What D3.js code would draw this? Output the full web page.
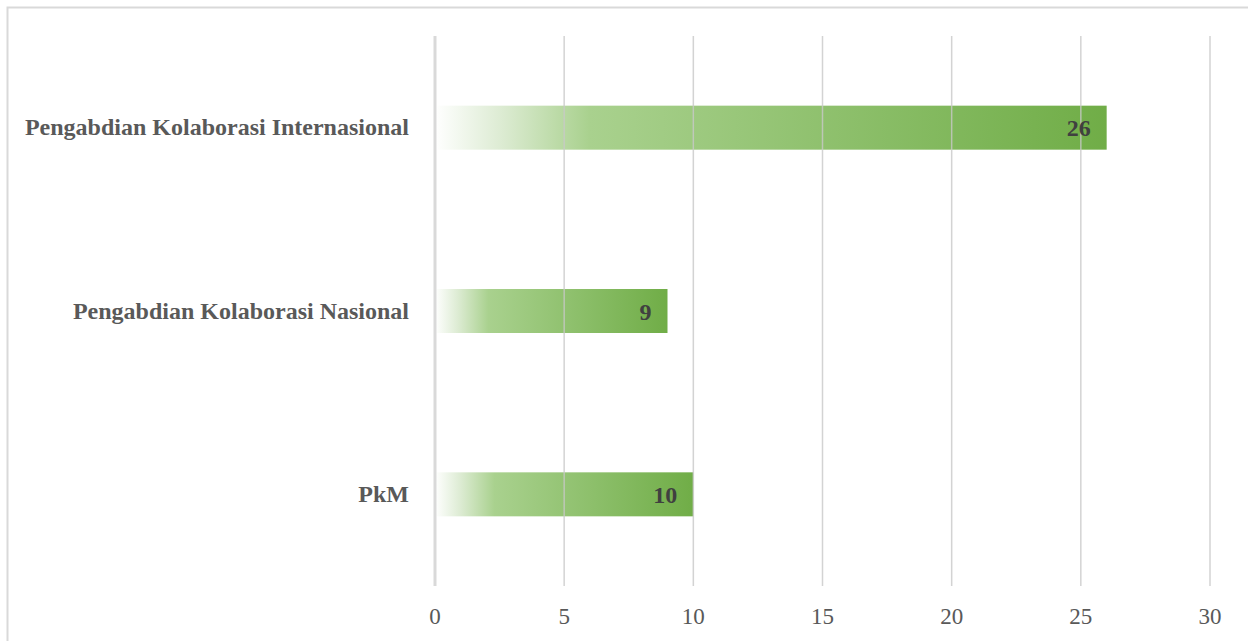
<!DOCTYPE html>
<html><head><meta charset="utf-8">
<script src="https://cdn.jsdelivr.net/npm/d3@7"></script>
<style>body{margin:0;background:#fff}svg{display:block}</style>
</head><body>
<script>
const categories = ["Pengabdian Kolaborasi Internasional","Pengabdian Kolaborasi Nasional","PkM"];
const values = [26, 9, 10];
const tickValues = [0,5,10,15,20,25,30];

const W = 1248, H = 641;
const FONT = "'Liberation Serif', 'Times New Roman', serif";
const svg = d3.select("body").append("svg").attr("width", W).attr("height", H);
svg.append("rect").attr("x",7.5).attr("y",7.5).attr("width",W).attr("height",H)
  .attr("fill","#fff").attr("stroke","#d9d9d9").attr("stroke-width",2);

const x = d3.scaleLinear().domain([0,30]).range([435,1210]);
const y = d3.scaleBand().domain(categories).range([36,586]).paddingInner(0.76).paddingOuter(0.38);

const defs = svg.append("defs");
const g = defs.append("linearGradient").attr("id","barGrad").attr("x1","0%").attr("x2","100%");
g.append("stop").attr("offset","0%").attr("stop-color","#ffffff");
g.append("stop").attr("offset","10%").attr("stop-color","#dcebd2");
g.append("stop").attr("offset","23%").attr("stop-color","#a9d18e");
g.append("stop").attr("offset","100%").attr("stop-color","#70ad47");

svg.selectAll("rect.bar").data(values).join("rect").attr("class","bar")
  .attr("x", x(0)).attr("y",(d,i)=>y(categories[i]))
  .attr("width", d=>x(d)-x(0)).attr("height", y.bandwidth())
  .attr("fill","url(#barGrad)");

// gridlines
svg.selectAll("line.grid").data(tickValues).join("line").attr("class","grid")
  .attr("x1",d=>x(d)).attr("x2",d=>x(d)).attr("y1",36).attr("y2",586)
  .attr("stroke", d=> d===0 ? "#d9d9d9" : "#c8c8c8")
  .attr("stroke-opacity", d=> d===0 ? 1 : 0.8)
  .attr("stroke-width", d=> d===0 ? 3 : 1.5);

// axis labels
svg.selectAll("text.tick").data(tickValues).join("text").attr("class","tick")
  .attr("x",d=>x(d)).attr("y",624).attr("text-anchor","middle")
  .attr("font-family",FONT).attr("font-size",23)
  .attr("fill","#595959").text(d=>d);

// category labels
svg.selectAll("text.cat").data(categories).join("text").attr("class","cat")
  .attr("x",409).attr("y",d=>y(d)+y.bandwidth()/2).attr("dy","0.32em")
  .attr("text-anchor","end")
  .attr("font-family",FONT).attr("font-size",24)
  .attr("font-weight","bold").attr("fill","#595959").text(d=>d);

// value labels
svg.selectAll("text.val").data(values).join("text").attr("class","val")
  .attr("x",d=>x(d)-16).attr("y",(d,i)=>y(categories[i])+y.bandwidth()/2).attr("dy","0.36em")
  .attr("text-anchor","end")
  .attr("font-family",FONT).attr("font-size",24)
  .attr("font-weight","bold").attr("fill","#404040").text(d=>d);
</script>
</body></html>
